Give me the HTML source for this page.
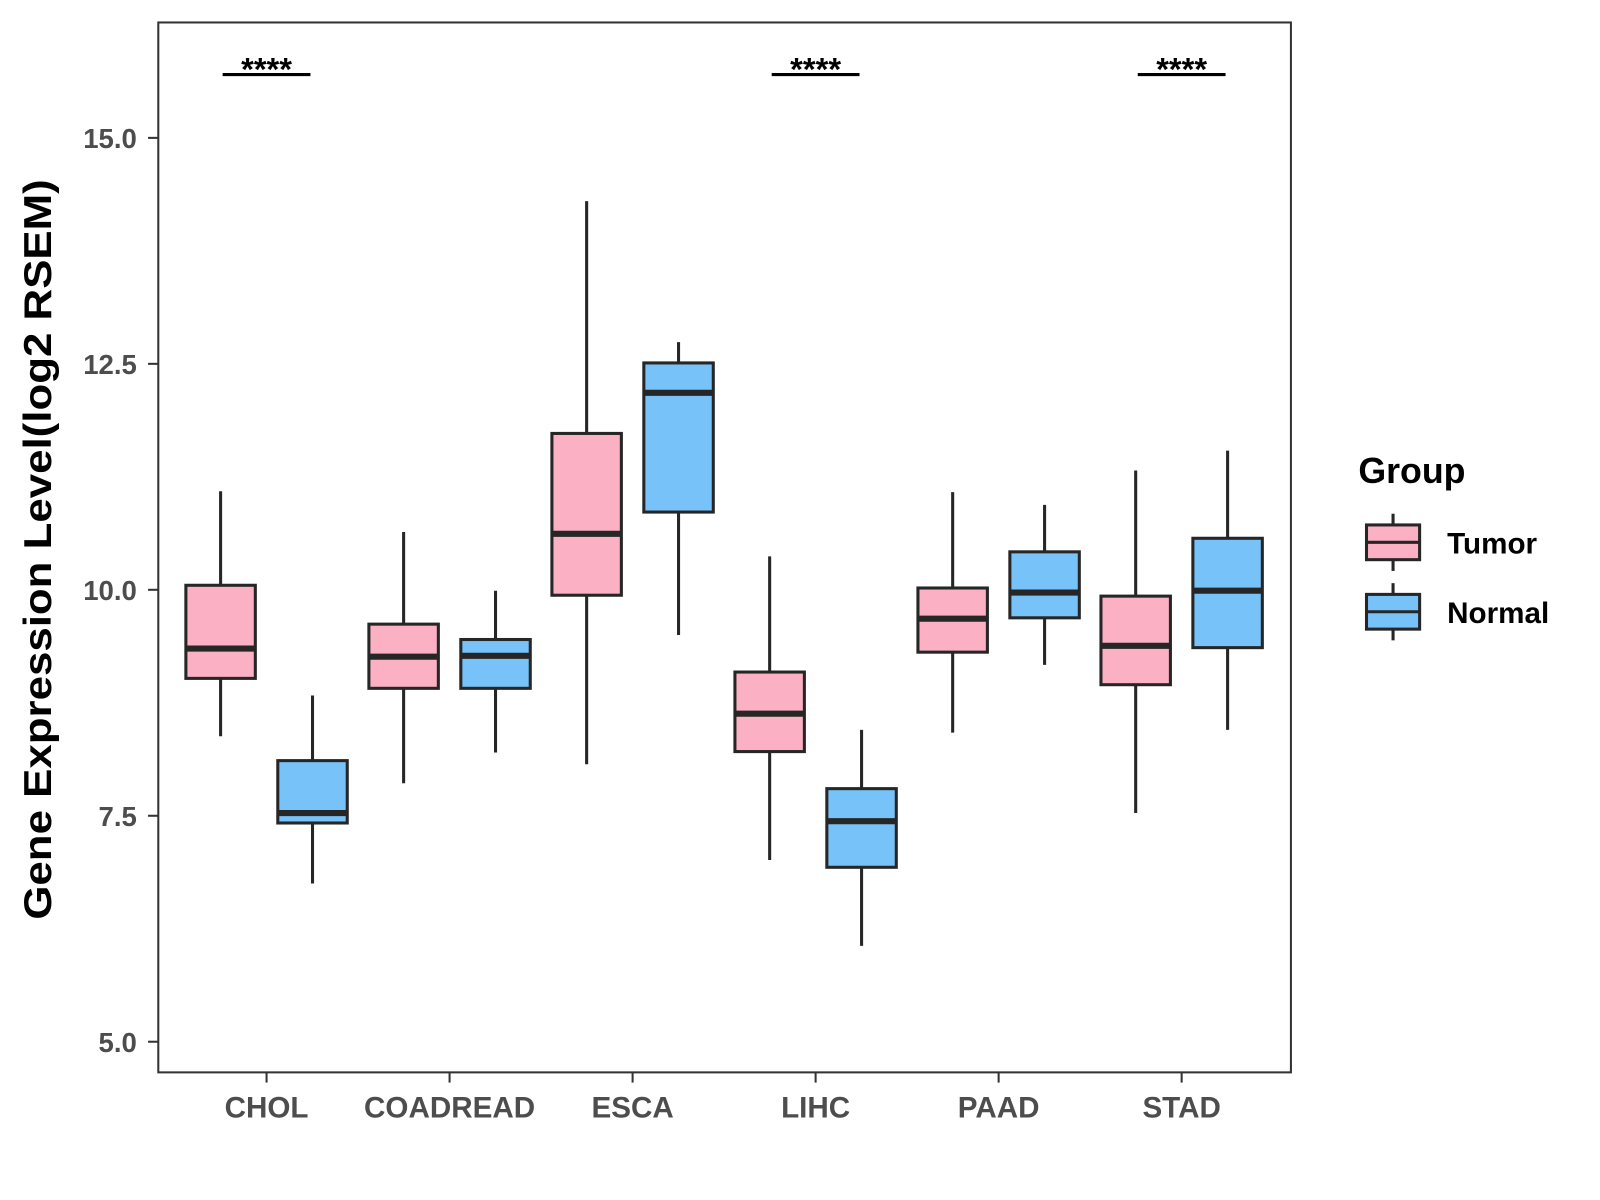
<!DOCTYPE html>
<html><head><meta charset="utf-8"><style>
html,body{margin:0;padding:0;background:#fff;width:1600px;height:1200px;overflow:hidden}
text{font-family:"Liberation Sans",Arial,sans-serif;font-weight:bold}
</style></head><body>
<svg id="chart" width="1600" height="1200" xmlns="http://www.w3.org/2000/svg">
<g transform="scale(1.0213)">
<rect x="155" y="22" width="1109" height="1028" fill="#fff" stroke="#333" stroke-width="2"/>
<g id="yaxis"></g>
<g id="xaxis"></g>
<g id="boxes"></g>
<g id="sig"></g>
<text x="40" y="538" transform="rotate(-90 40 538)" text-anchor="middle" dominant-baseline="middle" font-size="38" textLength="725" lengthAdjust="spacingAndGlyphs" fill="#000">Gene Expression Level(log2 RSEM)</text>
<g>
<text x="1330" y="473" font-size="35" fill="#000">Group</text>
<g>
<line x1="1364" y1="503" x2="1364" y2="559" stroke="#262626" stroke-width="3"/>
<rect x="1338" y="514" width="52" height="34" fill="#FBB1C3" stroke="#262626" stroke-width="3"/>
<line x1="1338" y1="531" x2="1390" y2="531" stroke="#262626" stroke-width="3"/>
<text x="1417" y="542" font-size="29" fill="#000">Tumor</text></g>
<g>
<line x1="1364" y1="571" x2="1364" y2="627" stroke="#262626" stroke-width="3"/>
<rect x="1338" y="582" width="52" height="34" fill="#77C2F8" stroke="#262626" stroke-width="3"/>
<line x1="1338" y1="599" x2="1390" y2="599" stroke="#262626" stroke-width="3"/>
<text x="1417" y="610" font-size="29" fill="#000">Normal</text></g>
</g>
</g>
</svg>
<script>
const categories=["CHOL","COADREAD","ESCA","LIHC","PAAD","STAD"];
const tumorStats=[[8.38,9.02,9.35,10.05,11.09],[7.86,8.91,9.26,9.62,10.64],[8.07,9.94,10.62,11.73,14.30],[7.01,8.21,8.63,9.09,10.37],[8.42,9.31,9.68,10.02,11.08],[7.53,8.95,9.38,9.93,11.32]];
const normalStats=[[6.75,7.42,7.53,8.11,8.83],[8.20,8.91,9.27,9.45,9.99],[9.50,10.86,12.18,12.51,12.74],[6.06,6.93,7.44,7.80,8.45],[9.17,9.69,9.97,10.42,10.94],[8.45,9.36,9.99,10.57,11.54]];
const yTicks=[5.0,7.5,10.0,12.5,15.0];
const sigCategories=["CHOL","LIHC","STAD"];
const sigLabels=["****","****","****"];
const NS="http://www.w3.org/2000/svg";
const yS=v=>1020-(v-5)*88.5;
const xS=i=>261+i*179.2;
function mk(tag,attrs,parent,txt){const e=document.createElementNS(NS,tag);for(const k in attrs)e.setAttribute(k,attrs[k]);if(txt!==undefined)e.textContent=txt;parent.appendChild(e);return e;}
const ya=document.getElementById('yaxis');
yTicks.forEach(t=>{
 const l=mk('line',{x1:145,x2:155,y1:yS(t),y2:yS(t),stroke:'#333','stroke-width':2},ya);
 
 
 const tx=mk('text',{x:134,y:yS(t)+10,'text-anchor':'end','font-size':27,fill:'#4d4d4d'},ya,t.toFixed(1));
 
 
});
const xa=document.getElementById('xaxis');
categories.forEach((c,i)=>{
 const l=mk('line',{x1:xS(i),x2:xS(i),y1:1050,y2:1060,stroke:'#333','stroke-width':2},xa);
 
 
 const tx=mk('text',{x:xS(i),y:1094,'text-anchor':'middle','font-size':29,fill:'#4d4d4d'},xa,c);
 
 
});
const bx=document.getElementById('boxes');
function box(s,cx,fill,name){
 const g=mk('g',{},bx);
 
 
 mk('line',{x1:cx,x2:cx,y1:yS(s[0]),y2:yS(s[4]),stroke:'#262626','stroke-width':3},g);
 mk('rect',{x:cx-34,y:yS(s[3]),width:68,height:yS(s[1])-yS(s[3]),fill:fill,stroke:'#262626','stroke-width':3},g);
 mk('line',{x1:cx-34,x2:cx+34,y1:yS(s[2]),y2:yS(s[2]),stroke:'#262626','stroke-width':6},g);
}
categories.forEach((c,i)=>{
 box(tumorStats[i],xS(i)-45,'#FBB1C3','box-tumor-'+c.toLowerCase());
 box(normalStats[i],xS(i)+45,'#77C2F8','box-normal-'+c.toLowerCase());
});
const sg=document.getElementById('sig');
sigCategories.forEach((c,k)=>{
 const i=categories.indexOf(c);
 const l=mk('line',{x1:xS(i)-43,x2:xS(i)+43,y1:73,y2:73,stroke:'#000','stroke-width':3},sg);
 
 
 const t=mk('text',{x:xS(i),y:79,'text-anchor':'middle','font-size':32,fill:'#000'},sg,sigLabels[k]);
 
 
});
</script>
</body></html>
